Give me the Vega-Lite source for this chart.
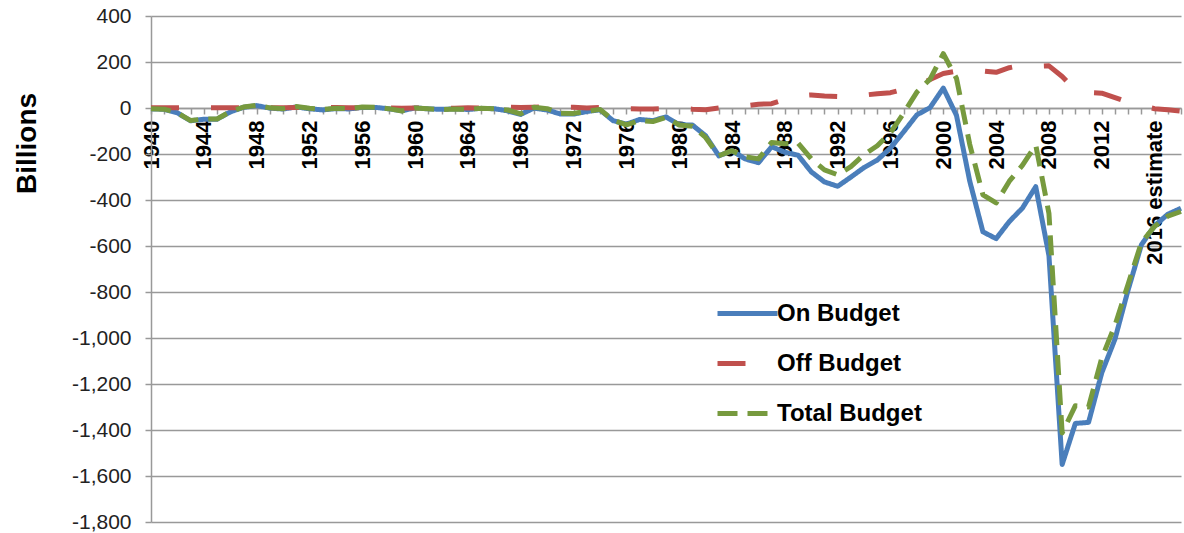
{
  "$schema": "https://vega.github.io/schema/vega-lite/v6.json",
  "autosize": {"type": "none"},
  "padding": {"left": 151, "top": 16, "right": 0, "bottom": 11},
  "width": 1033,
  "height": 506,
  "background": "white",
  "config": {
    "view": {"stroke": null},
    "font": "Liberation Sans"
  },
  "data": {
    "values": [
      {"year": "1940", "On Budget": -3.5, "Off Budget": 0.6, "Total Budget": -2.9},
      {"year": "1941", "On Budget": -5.6, "Off Budget": 0.7, "Total Budget": -4.9},
      {"year": "1942", "On Budget": -21.3, "Off Budget": 0.8, "Total Budget": -20.5},
      {"year": "1943", "On Budget": -55.6, "Off Budget": 1.0, "Total Budget": -54.6},
      {"year": "1944", "On Budget": -48.8, "Off Budget": 1.2, "Total Budget": -47.6},
      {"year": "1945", "On Budget": -48.7, "Off Budget": 1.2, "Total Budget": -47.6},
      {"year": "1946", "On Budget": -17.1, "Off Budget": 1.2, "Total Budget": -15.9},
      {"year": "1947", "On Budget": 2.8, "Off Budget": 1.2, "Total Budget": 4.0},
      {"year": "1948", "On Budget": 10.5, "Off Budget": 1.2, "Total Budget": 11.8},
      {"year": "1949", "On Budget": -0.7, "Off Budget": 1.3, "Total Budget": 0.6},
      {"year": "1950", "On Budget": -4.4, "Off Budget": 1.3, "Total Budget": -3.1},
      {"year": "1951", "On Budget": 4.3, "Off Budget": 1.8, "Total Budget": 6.1},
      {"year": "1952", "On Budget": -3.3, "Off Budget": 1.8, "Total Budget": -1.5},
      {"year": "1953", "On Budget": -8.3, "Off Budget": 1.8, "Total Budget": -6.5},
      {"year": "1954", "On Budget": -2.8, "Off Budget": 1.7, "Total Budget": -1.2},
      {"year": "1955", "On Budget": -4.1, "Off Budget": 1.1, "Total Budget": -3.0},
      {"year": "1956", "On Budget": 2.5, "Off Budget": 1.5, "Total Budget": 3.9},
      {"year": "1957", "On Budget": 2.6, "Off Budget": 0.8, "Total Budget": 3.4},
      {"year": "1958", "On Budget": -3.3, "Off Budget": 0.5, "Total Budget": -2.8},
      {"year": "1959", "On Budget": -12.1, "Off Budget": -0.7, "Total Budget": -12.8},
      {"year": "1960", "On Budget": 0.5, "Off Budget": -0.2, "Total Budget": 0.3},
      {"year": "1961", "On Budget": -3.8, "Off Budget": 0.4, "Total Budget": -3.3},
      {"year": "1962", "On Budget": -5.9, "Off Budget": -1.3, "Total Budget": -7.1},
      {"year": "1963", "On Budget": -4.0, "Off Budget": -0.8, "Total Budget": -4.8},
      {"year": "1964", "On Budget": -6.5, "Off Budget": 0.6, "Total Budget": -5.9},
      {"year": "1965", "On Budget": -1.6, "Off Budget": 0.2, "Total Budget": -1.4},
      {"year": "1966", "On Budget": -3.1, "Off Budget": -0.6, "Total Budget": -3.7},
      {"year": "1967", "On Budget": -12.6, "Off Budget": 4.0, "Total Budget": -8.6},
      {"year": "1968", "On Budget": -27.7, "Off Budget": 2.5, "Total Budget": -25.2},
      {"year": "1969", "On Budget": -0.5, "Off Budget": 3.7, "Total Budget": 3.2},
      {"year": "1970", "On Budget": -8.7, "Off Budget": 5.9, "Total Budget": -2.8},
      {"year": "1971", "On Budget": -26.1, "Off Budget": 3.0, "Total Budget": -23.0},
      {"year": "1972", "On Budget": -26.4, "Off Budget": 3.1, "Total Budget": -23.4},
      {"year": "1973", "On Budget": -15.4, "Off Budget": 0.5, "Total Budget": -14.9},
      {"year": "1974", "On Budget": -8.0, "Off Budget": 1.8, "Total Budget": -6.1},
      {"year": "1975", "On Budget": -55.3, "Off Budget": 2.0, "Total Budget": -53.2},
      {"year": "1976", "On Budget": -70.5, "Off Budget": -3.2, "Total Budget": -73.7},
      {"year": "1977", "On Budget": -49.8, "Off Budget": -3.9, "Total Budget": -53.7},
      {"year": "1978", "On Budget": -54.9, "Off Budget": -4.3, "Total Budget": -59.2},
      {"year": "1979", "On Budget": -38.7, "Off Budget": -2.0, "Total Budget": -40.7},
      {"year": "1980", "On Budget": -72.7, "Off Budget": -1.1, "Total Budget": -73.8},
      {"year": "1981", "On Budget": -74.0, "Off Budget": -5.0, "Total Budget": -79.0},
      {"year": "1982", "On Budget": -120.6, "Off Budget": -7.4, "Total Budget": -128.0},
      {"year": "1983", "On Budget": -208.0, "Off Budget": 0.2, "Total Budget": -207.8},
      {"year": "1984", "On Budget": -185.6, "Off Budget": 0.3, "Total Budget": -185.4},
      {"year": "1985", "On Budget": -221.5, "Off Budget": 9.2, "Total Budget": -212.3},
      {"year": "1986", "On Budget": -237.9, "Off Budget": 16.7, "Total Budget": -221.2},
      {"year": "1987", "On Budget": -168.4, "Off Budget": 18.6, "Total Budget": -149.7},
      {"year": "1988", "On Budget": -192.3, "Off Budget": 37.1, "Total Budget": -155.2},
      {"year": "1989", "On Budget": -205.4, "Off Budget": 52.8, "Total Budget": -152.6},
      {"year": "1990", "On Budget": -277.6, "Off Budget": 56.6, "Total Budget": -221.0},
      {"year": "1991", "On Budget": -321.4, "Off Budget": 52.2, "Total Budget": -269.2},
      {"year": "1992", "On Budget": -340.4, "Off Budget": 50.1, "Total Budget": -290.3},
      {"year": "1993", "On Budget": -300.4, "Off Budget": 45.3, "Total Budget": -255.1},
      {"year": "1994", "On Budget": -258.8, "Off Budget": 55.7, "Total Budget": -203.2},
      {"year": "1995", "On Budget": -226.4, "Off Budget": 62.4, "Total Budget": -164.0},
      {"year": "1996", "On Budget": -174.0, "Off Budget": 66.6, "Total Budget": -107.4},
      {"year": "1997", "On Budget": -103.2, "Off Budget": 81.4, "Total Budget": -21.9},
      {"year": "1998", "On Budget": -29.9, "Off Budget": 99.2, "Total Budget": 69.3},
      {"year": "1999", "On Budget": 1.9, "Off Budget": 123.7, "Total Budget": 125.6},
      {"year": "2000", "On Budget": 86.4, "Off Budget": 149.8, "Total Budget": 236.2},
      {"year": "2001", "On Budget": -32.4, "Off Budget": 160.7, "Total Budget": 128.2},
      {"year": "2002", "On Budget": -317.4, "Off Budget": 159.7, "Total Budget": -157.8},
      {"year": "2003", "On Budget": -538.4, "Off Budget": 160.8, "Total Budget": -377.6},
      {"year": "2004", "On Budget": -568.0, "Off Budget": 155.2, "Total Budget": -412.7},
      {"year": "2005", "On Budget": -493.6, "Off Budget": 175.3, "Total Budget": -318.3},
      {"year": "2006", "On Budget": -434.5, "Off Budget": 186.3, "Total Budget": -248.2},
      {"year": "2007", "On Budget": -342.2, "Off Budget": 181.5, "Total Budget": -160.7},
      {"year": "2008", "On Budget": -641.8, "Off Budget": 183.3, "Total Budget": -458.6},
      {"year": "2009", "On Budget": -1549.7, "Off Budget": 137.0, "Total Budget": -1412.7},
      {"year": "2010", "On Budget": -1371.4, "Off Budget": 77.0, "Total Budget": -1294.4},
      {"year": "2011", "On Budget": -1366.8, "Off Budget": 67.2, "Total Budget": -1299.6},
      {"year": "2012", "On Budget": -1151.3, "Off Budget": 64.3, "Total Budget": -1087.0},
      {"year": "2013 estimate", "On Budget": -1005, "Off Budget": 45, "Total Budget": -945},
      {"year": "2014 estimate", "On Budget": -790, "Off Budget": 25, "Total Budget": -765},
      {"year": "2015 estimate", "On Budget": -595, "Off Budget": 10, "Total Budget": -585},
      {"year": "2016 estimate", "On Budget": -512, "Off Budget": -3, "Total Budget": -515},
      {"year": "2017 estimate", "On Budget": -462, "Off Budget": -8, "Total Budget": -470},
      {"year": "2018 estimate", "On Budget": -436, "Off Budget": -14, "Total Budget": -450}
    ]
  },
  "transform": [
    {"fold": ["On Budget", "Off Budget", "Total Budget"], "as": ["series", "value"]}
  ],
  "mark": {"type": "line", "strokeWidth": 5, "strokeJoin": "round", "clip": false},
  "encoding": {
    "x": {
      "field": "year",
      "type": "ordinal",
      "scale": {"type": "point", "padding": 0, "range": [0, 1030]},
      "axis": {
        "title": null,
        "orient": "bottom",
        "offset": -414,
        "labelAngle": -90,
        "labelExpr": "parseInt(datum.value) % 4 == 0 ? datum.label : ''",
        "labelOverlap": false,
        "labelBound": false,
        "labelFlush": false,
        "labelFontSize": 22,
        "labelFontWeight": "bold",
        "labelColor": "#000000",
        "labelPadding": 6,
        "tickSize": 6,
        "tickColor": "#999999",
        "tickWidth": 1.5,
        "domainColor": "#999999",
        "domainWidth": 1.5,
        "grid": false
      }
    },
    "y": {
      "field": "value",
      "type": "quantitative",
      "scale": {"domain": [-1800, 400], "nice": false, "zero": false},
      "axis": {
        "title": "Billions",
        "titleFontSize": 28,
        "titleFontWeight": "bold",
        "titleColor": "#000000",
        "titleAngle": -90,
        "titleX": -116,
        "titleY": 127,
        "titleAlign": "center",
        "titleBaseline": "alphabetic",
        "values": [-1800, -1600, -1400, -1200, -1000, -800, -600, -400, -200, 0, 200, 400],
        "labelExpr": "replace(format(datum.value, ',d'), '\u2212', '-')",
        "labelFontSize": 21,
        "labelColor": "#222222",
        "labelPadding": 14,
        "tickSize": 6,
        "tickColor": "#999999",
        "tickWidth": 1.5,
        "domainColor": "#999999",
        "domainWidth": 1.5,
        "grid": true,
        "gridColor": "#999999",
        "gridWidth": 1.5
      }
    },
    "color": {
      "field": "series",
      "type": "nominal",
      "scale": {
        "domain": ["On Budget", "Off Budget", "Total Budget"],
        "range": ["#4A7EBB", "#C0504D", "#779A3E"]
      },
      "legend": {
        "title": null,
        "orient": "none",
        "legendX": 564,
        "legendY": 265,
        "symbolType": "stroke",
        "symbolSize": 3600,
        "symbolStrokeWidth": 5,
        "labelFontSize": 24,
        "labelFontWeight": "bold",
        "labelColor": "#000000",
        "labelOffset": -3,
        "rowPadding": 5,
        "padding": 0
      }
    },
    "strokeDash": {
      "field": "series",
      "type": "nominal",
      "scale": {
        "domain": ["On Budget", "Off Budget", "Total Budget"],
        "range": [[1, 0], [28, 32], [20, 10]]
      },
      "legend": null
    }
  }
}
